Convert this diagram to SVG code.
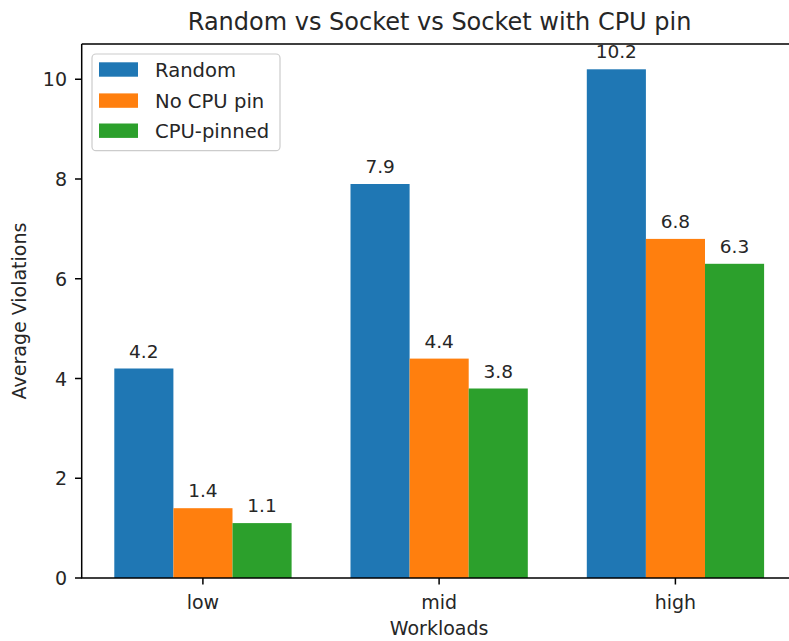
<svg xmlns="http://www.w3.org/2000/svg" width="789" height="641" viewBox="0 0 789 641">
<style>
text{font-family:"DejaVu Sans","Liberation Sans",sans-serif;fill:#262626;}
.t{font-size:19.6px;}
.ti{font-size:24px;text-anchor:middle;}
.v{font-size:18.5px;text-anchor:middle;}
.yl{text-anchor:end;font-size:19px;}
.xl{text-anchor:middle;font-size:19px;}
.b0{fill:#1f77b4;}
.b1{fill:#ff7f0e;}
.b2{fill:#2ca02c;}
.sp{stroke:#000;stroke-width:1.5;fill:none;}
</style>
<rect width="789" height="641" fill="#fff"/>
<g id="bars">
<rect class="b0" x="114.3" y="368.5" width="59.1" height="209.5"/>
<rect class="b1" x="173.4" y="508.2" width="59.1" height="69.8"/>
<rect class="b2" x="232.5" y="523.1" width="59.1" height="54.9"/>
<rect class="b0" x="350.5" y="184.0" width="59.1" height="394.0"/>
<rect class="b1" x="409.6" y="358.6" width="59.1" height="219.4"/>
<rect class="b2" x="468.7" y="388.5" width="59.1" height="189.5"/>
<rect class="b0" x="586.8" y="69.3" width="59.1" height="508.7"/>
<rect class="b1" x="645.9" y="238.9" width="59.1" height="339.1"/>
<rect class="b2" x="705.0" y="263.8" width="59.1" height="314.2"/>
</g>
<g id="bar-labels">
<text class="v" x="143.8" y="357.5">4.2</text>
<text class="v" x="202.9" y="497.2">1.4</text>
<text class="v" x="262.0" y="512.1">1.1</text>
<text class="v" x="380.1" y="173">7.9</text>
<text class="v" x="439.1" y="347.6">4.4</text>
<text class="v" x="498.2" y="377.5">3.8</text>
<text class="v" x="616.3" y="58.3">10.2</text>
<text class="v" x="675.4" y="227.9">6.8</text>
<text class="v" x="734.5" y="252.8">6.3</text>
</g>
<g id="axes">
<path class="sp" d="M81.7,43.9 V578 H800 M81.7,43.9 H800"/>
<path class="sp" d="M75,578H81.7M75,478.3H81.7M75,378.5H81.7M75,278.8H81.7M75,179H81.7M75,79.3H81.7"/>
<path class="sp" d="M202.9,578v6.6M439.1,578v6.6M675.4,578v6.6"/>
<text class="yl" x="67" y="585">0</text>
<text class="yl" x="67" y="485.3">2</text>
<text class="yl" x="67" y="385.5">4</text>
<text class="yl" x="67" y="285.8">6</text>
<text class="yl" x="67" y="186">8</text>
<text class="yl" x="67" y="86.3">10</text>
<text class="xl" x="202.9" y="608.5">low</text>
<text class="xl" x="439.1" y="608.5">mid</text>
<text class="xl" x="675.4" y="608.5">high</text>
<text class="xl" x="439.1" y="635">Workloads</text>
<text class="xl" transform="translate(26,311) rotate(-90)">Average Violations</text>
<text class="ti" x="439.6" y="30">Random vs Socket vs Socket with CPU pin</text>
</g>
<g id="legend">
<rect x="92" y="54" width="188" height="96.7" rx="4" fill="#fff" fill-opacity="0.8" stroke="#cccccc" stroke-width="1.2"/>
<rect class="b0" x="99" y="62.3" width="39" height="14.4"/>
<rect class="b1" x="99" y="93.4" width="39" height="14.4"/>
<rect class="b2" x="99" y="123.5" width="39" height="14.4"/>
<text class="t" x="155" y="76.7">Random</text>
<text class="t" x="155" y="107.5">No CPU pin</text>
<text class="t" x="155" y="137.7">CPU-pinned</text>
</g>
</svg>
